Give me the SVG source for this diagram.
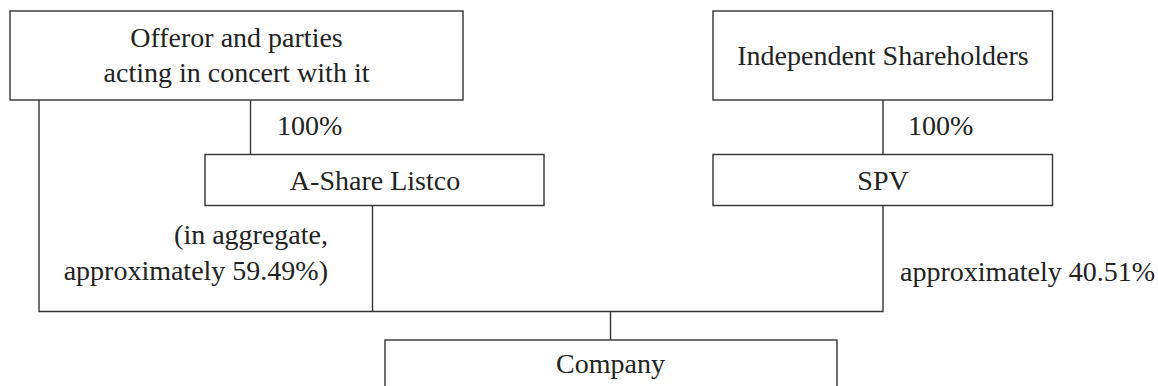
<svg xmlns="http://www.w3.org/2000/svg" width="1158" height="386" viewBox="0 0 1158 386">
<style>
.box{fill:#fff;stroke:#333;stroke-width:1.4}
.ln{fill:none;stroke:#333;stroke-width:1.4}
text{font-size:28px;fill:#222}
.c{text-anchor:middle}
.e{text-anchor:end}
</style>
<rect width="1158" height="386" fill="#fff"/>
<g font-family="Liberation Serif, Tinos, Times New Roman, DejaVu Serif, serif">
<g id="connectors">
<line class="ln" x1="250.5" y1="100" x2="250.5" y2="154.5"/>
<line class="ln" x1="883" y1="100" x2="883" y2="154.5"/>
<polyline class="ln" points="39,100 39,311.5 883,311.5 883,205.5"/>
<line class="ln" x1="372.5" y1="205.5" x2="372.5" y2="311.5"/>
<line class="ln" x1="610.5" y1="311.5" x2="610.5" y2="340"/>
<text x="277" y="135">100%</text>
<text x="908" y="135">100%</text>
<text class="e" x="328" y="244">(in aggregate,</text>
<text class="e" x="328" y="280">approximately 59.49%)</text>
<text x="900" y="281">approximately 40.51%</text>
</g>
<g id="offeror">
<rect class="box" x="10" y="11" width="453" height="89"/>
<text class="c" x="236.5" y="47">Offeror and parties</text>
<text class="c" x="236.5" y="82">acting in concert with it</text>
</g>
<g id="independent">
<rect class="box" x="713" y="11" width="339.5" height="89"/>
<text class="c" x="883" y="65">Independent Shareholders</text>
</g>
<g id="ashare">
<rect class="box" x="205" y="154.5" width="339" height="51"/>
<text class="c" x="375" y="190">A-Share Listco</text>
</g>
<g id="spv">
<rect class="box" x="713" y="154.5" width="339.5" height="51"/>
<text class="c" x="883" y="190">SPV</text>
</g>
<g id="company">
<rect class="box" x="385" y="340" width="452" height="70"/>
<text class="c" x="610.5" y="373">Company</text>
</g>
</g>
</svg>
